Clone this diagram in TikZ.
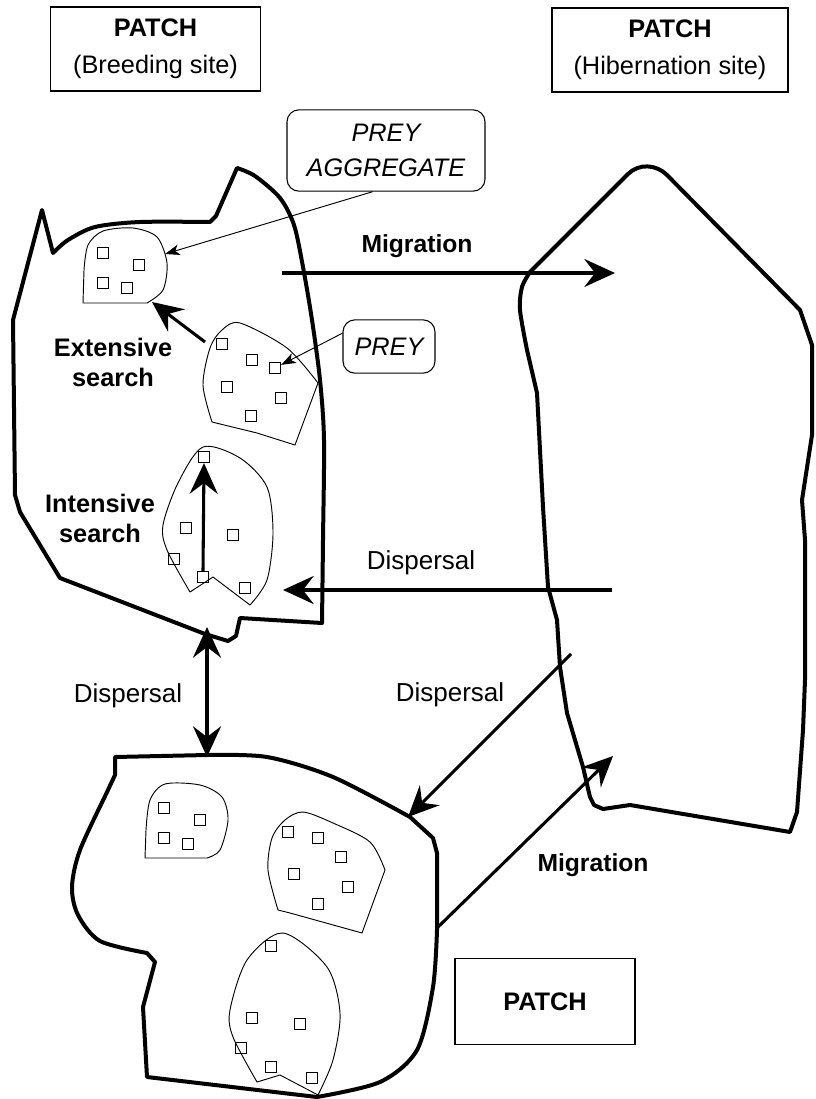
\documentclass[tikz,border=0pt]{standalone}
\usepackage{fontspec}
\setmainfont{Liberation Sans}
\usetikzlibrary{arrows.meta,positioning}
\tikzset{box/.style={draw,line width=0.8pt,align=center,inner sep=0pt,font=\fontsize{19}{28}\selectfont}, callout/.style={box,rounded corners=9pt,font=\itshape\fontsize{19}{26}\selectfont}, patch/.style={line width=3pt,line join=round}, blob/.style={line width=0.7pt,line join=round}, prey/.style={draw,line width=0.7pt,minimum size=8.5pt,inner sep=0pt}, arrow/.style={-{Stealth[length=23pt,width=21pt,inset=8pt]},line width=2.3pt}, twoway/.style={arrow,{Stealth[length=23pt,width=21pt,inset=8pt]}-{Stealth[length=23pt,width=21pt,inset=8pt]}}, leader/.style={-{Stealth[length=11pt,width=8pt,inset=3pt]},line width=0.7pt}, lbl/.style={font=\fontsize{19.5}{22}\selectfont}, blbl/.style={align=center,font=\bfseries\fontsize{19}{22.5}\selectfont}}

\begin{document}
\begin{tikzpicture}[x=0.75pt,y=-0.75pt]
\useasboundingbox (0,0) rectangle (815,1099);
\node[box,minimum width=158pt,minimum height=63pt] (breed) at (155.5,49) {\textbf{PATCH}\\(Breeding site)};\node[box,minimum width=177pt,minimum height=63pt] (hib) at (670,50) {\textbf{PATCH}\\(Hibernation site)};\node[box,minimum width=135pt,minimum height=64pt] (third) at (545,1001.5) {\textbf{PATCH}};
\node[callout,minimum width=148.5pt,minimum height=61pt] (agg) at (386,150.5) {PREY\\AGGREGATE};\node[callout,minimum width=69pt,minimum height=40pt] (preybox) at (389,346.5) {PREY};
\draw[patch] (13,320) -- (42,210) -- (53,253) -- plot[smooth] coordinates{(53,253)(68,240)(95,227)(140,222)(210,222)} -- (216,216) -- (237,168) -- plot[smooth] coordinates{(237,168)(255,176)(280,198)(294,225)(303,267)(312,320)(320,380)(324,440)(323,540)(322,623)} -- (240,618) -- (236,636) -- (228,641) -- (205,634) -- (60,578) -- (20,512) -- (15,495) -- cycle;
\draw[patch] (530,272) -- (628,174) to[out=45,in=135] (667,175) -- (800,310) -- (812,345) -- (812,435) -- (802,500) -- (805,540) -- (805,680) -- (803,730) -- (797,812) -- (790,832) -- (630,805) -- (603,809) -- (594,805) -- (590,797) -- (583,767) -- (567,713) -- (560,667) -- (557,620) -- (548,587) -- (543,507) -- (537,393) -- (527,350) -- plot[smooth] coordinates{(527,350)(520,310)(522,287)(530,272)} -- cycle;
\draw[patch] (115,757) -- (207,755) -- plot[smooth] coordinates{(207,755)(267,757)(333,777)(410,817)} -- (433,838) -- (437,853) -- (437,930) -- plot[smooth] coordinates{(437,930)(433,987)(417,1050)(380,1082)(317,1097)} -- (147,1077) -- (143,1007) -- (155,962) -- (147,953) -- plot[smooth] coordinates{(147,953)(100,941)(78,915)(72,887)(80,850)(108,790)(115,775)} -- cycle;
\draw[blob] (83,303) -- plot[smooth] coordinates{(84,270)(88,245)(103,231)(133,228)(157,237)(167,263)(163,290)(147,303)} -- cycle;
\draw[blob] plot[smooth] coordinates{(212,422)(203,385)(210,348)(222,330)(240,323)(287,348)(318,383)} -- (295,445) -- (257,433) -- cycle;
\draw[blob] plot[smooth] coordinates{(190,592)(167,550)(163,525)(178,483)(203,447)(240,458)(267,487)(273,533)(267,580)(250,605)} -- (213,577) -- cycle;
\draw[blob] (145,858) -- plot[smooth] coordinates{(146,830)(150,800)(165,784)(200,785)(222,797)(228,820)(220,850)(207,858)} -- cycle;
\draw[blob] plot[smooth] coordinates{(278,910)(268,870)(272,838)(285,820)(303,812)(333,823)(370,842)(385,870)} -- (362,933) -- (290,913) -- cycle;
\draw[blob] plot[smooth] coordinates{(257,1082)(233,1037)(230,1010)(247,960)(283,933)(327,967)(340,1013)(333,1060)(318,1095)} -- (280,1075) -- cycle;
\foreach \x/\y [count=\i] in {103/253,139/265,103/283,127/288,222/344,252/360,275/368,227/387,281/398,251/416,204/457,186/528,233/535,174/559,203/577,245/588,164/808,200/820,164/838,188/844,288/832,318/838,341/857,294/874,348/887,318/904,271/946,252/1018,300/1024,241/1048,271/1067,312/1078} \node[prey] (p\i) at (\x,\y) {};
\coordinate (aggtip) at (165,254);\coordinate (exts) at (205,342);\coordinate (exte) at (152,302);\coordinate (mig1s) at (282,273);\coordinate (mig1e) at (615,273);\coordinate (disp1s) at (612,590);\coordinate (disp1e) at (283,590);
\coordinate (disp2a) at (207,627);\coordinate (disp2b) at (207,757);\coordinate (disp3s) at (571,654);\coordinate (disp3e) at (408,817);\coordinate (mig2s) at (437,928);\coordinate (mig2e) at (613,756);
\draw[leader] ([xshift=-10pt]agg.south) -- (aggtip);\draw[leader] ([yshift=10pt]preybox.west) -- (p7);
\draw[arrow] (exts) -- (exte);\draw[arrow] (p15.north) -- (p11.south);\draw[arrow] (mig1s) -- (mig1e);\draw[arrow] (disp1s) -- (disp1e);
\draw[twoway] (disp2a) -- (disp2b);\draw[arrow] (disp3s) -- (disp3e);\draw[arrow] (mig2s) -- (mig2e);
\node[blbl] (ext) at (113,362) {Extensive\\search};\node[blbl] (int) at (100,518) {Intensive\\search};
\node[font=\bfseries\fontsize{18.5}{22}\selectfont] (mig1) at (417,246) {Migration};\node[font=\bfseries\fontsize{18.5}{22}\selectfont] (mig2) at (593,865) {Migration};
\node[lbl] (disp1) at (421,563) {Dispersal};\node[lbl] (disp2) at (128,696) {Dispersal};\node[lbl] (disp3) at (450,695) {Dispersal};
\end{tikzpicture}
\end{document}
